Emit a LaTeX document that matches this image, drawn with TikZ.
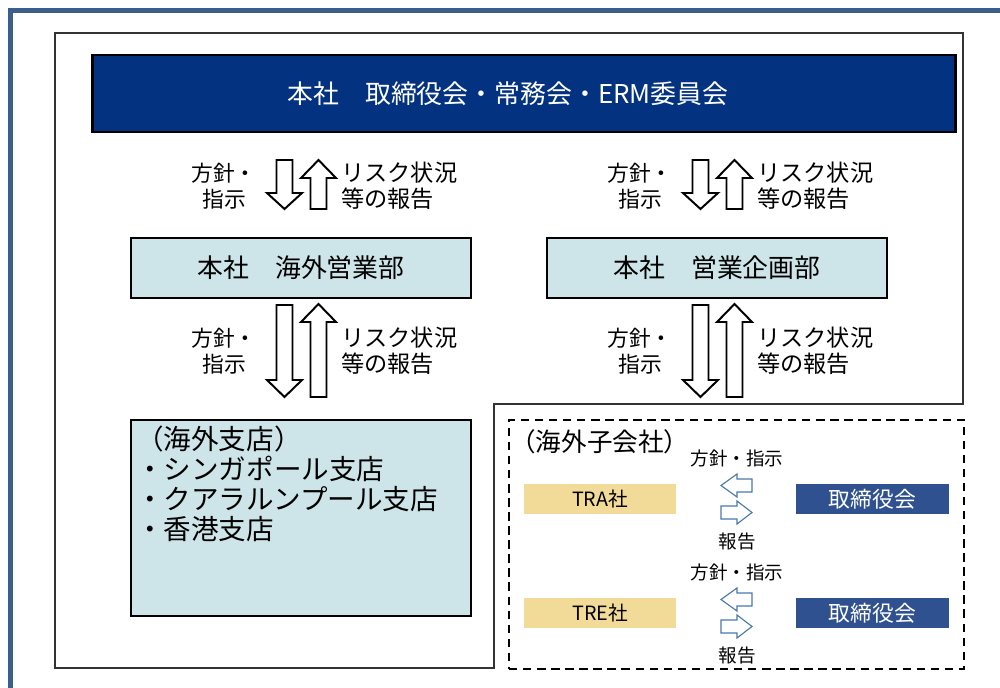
\documentclass[tikz,border=0pt]{standalone}
\usepackage{fontspec}
\setmainfont{Noto Sans CJK JP}
\usetikzlibrary{positioning}
\definecolor{hqblue}{HTML}{033380}
\definecolor{paleblue}{HTML}{CDE5E8}
\definecolor{goldbox}{HTML}{F2DB98}
\definecolor{boardblue}{HTML}{2F5190}
\definecolor{frameblue}{HTML}{3A5F8A}
\definecolor{smallblue}{HTML}{4A78AC}
\tikzset{
    x=0.025cm, y=-0.025cm, % one unit = one pixel of the page
    }
% block arrows: x, top, head base, tip
\newcommand{\downblk}[4]{\draw[blockarrow] (#1-8,#2) -- (#1+8,#2) -- (#1+8,#3) -- (#1+17.5,#3) -- (#1,#4) -- (#1-17.5,#3) -- (#1-8,#3) -- cycle;}
\newcommand{\upblk}[4]{\draw[blockarrow] (#1,#2) -- (#1+17.5,#3) -- (#1+8,#3) -- (#1+8,#4) -- (#1-8,#4) -- (#1-8,#3) -- (#1-17.5,#3) -- cycle;}
% small arrows: y centre
\newcommand{\leftsmall}[1]{\draw[thinarrow] (721,#1) -- (737,#1-11.5) -- (737,#1-6.5) -- (752,#1-6.5) -- (752,#1+6.5) -- (737,#1+6.5) -- (737,#1+11.5) -- cycle;}
\newcommand{\rightsmall}[1]{\draw[thinarrow] (752,#1) -- (737,#1-11.5) -- (737,#1-6.5) -- (721,#1-6.5) -- (721,#1+6.5) -- (737,#1+6.5) -- (737,#1+11.5) -- cycle;}

\begin{document}
\begin{tikzpicture}[
hqbox/.style={rectangle, draw=black, line width=2pt, fill=hqblue, minimum width=21.55cm, minimum height=1.925cm},
deptbox/.style={rectangle, draw=black, line width=1.4pt, fill=paleblue, minimum width=8.5cm, minimum height=1.5cm, font=\fontsize{18.4}{22}\selectfont},
leftlbl/.style={inner sep=0pt, align=center, font=\fontsize{15.5}{18.4}\selectfont},
rightlbl/.style={inner sep=0pt, anchor=west, align=left, font=\fontsize{16.5}{18.4}\selectfont},
blockarrow/.style={draw=black, line width=1.4pt, fill=white},
thinarrow/.style={draw=smallblue, line width=0.8pt, fill=white},
subbox/.style={rectangle, inner sep=0pt, minimum width=3.8cm, minimum height=0.75cm, font=\fontsize{14}{16}\selectfont},
smalllbl/.style={inner sep=0pt, font=\fontsize{13.2}{15}\selectfont},
]
\useasboundingbox (0,0) rectangle (1000,688);

% outer frames
\draw[frameblue, line width=3.2pt] (10.5,688) -- (10.5,10.5) -- (1000,10.5);
\draw[black!80, line width=0.8pt] (55,33) -- (963,33) -- (963,404) -- (494,404) -- (494,668) -- (55,668) -- cycle;

% head office
\node[hqbox] (hq) at (524,93.5) {};
\node[text=white, font=\fontsize{18.4}{22}\selectfont] (hqtext) at (508,93.5) {本社　取締役会・常務会・ERM委員会};
\node[deptbox] (overseas) at (301,268) {本社　海外営業部};
\node[deptbox] (planning) at (717,268) {本社　営業企画部};

% branches
\node[deptbox, minimum height=4.9cm] (branches) at (301,518) {};
\node[inner sep=0pt, anchor=north west, align=left, font=\fontsize{19.6}{21.3}\selectfont] (branchtext) at (136,426)
  {（海外支店）\\・シンガポール支店\\・クアラルンプール支店\\・香港支店};

% subsidiaries
\node[rectangle, draw=black, line width=1.6pt, dash pattern=on 6pt off 4pt, minimum width=11.375cm, minimum height=6.225cm] (subs) at (736.5,544.5) {};
\node[inner sep=0pt, anchor=west, font=\fontsize{18.2}{20}\selectfont] (substitle) at (510,442) {（海外子会社）};
\node[subbox, fill=goldbox] (tra) at (600,499) {TRA社};
\node[subbox, fill=boardblue, text=white, font=\fontsize{15.5}{18}\selectfont] (traboard) at (872.5,499) {取締役会};
\node[subbox, fill=goldbox] (tre) at (600,613) {TRE社};
\node[subbox, fill=boardblue, text=white, font=\fontsize{15.5}{18}\selectfont] (treboard) at (872.5,613) {取締役会};

% labels
\foreach \dx/\n in {0/a,416/b}{
  \node[leftlbl] (inst1\n) at (224+\dx,186) {方針・\\指示};
  \node[rightlbl] (rep1\n) at (341+\dx,186) {リスク状況\\等の報告};
  \node[leftlbl] (inst2\n) at (224+\dx,351) {方針・\\指示};
  \node[rightlbl] (rep2\n) at (341+\dx,351) {リスク状況\\等の報告};
  \downblk{284.5+\dx}{160}{193}{209}
  \upblk{318.5+\dx}{160}{178}{209}
  \downblk{284.5+\dx}{305}{380}{397}
  \upblk{318.5+\dx}{304}{322}{397}
}

\node[smalllbl] (instA) at (737,458) {方針・指示};
\node[smalllbl] (repA) at (737,542) {報告};
\node[smalllbl] (instE) at (737,572) {方針・指示};
\node[smalllbl] (repE) at (737,656) {報告};
\leftsmall{485.5}
\rightsmall{512.5}
\leftsmall{599.5}
\rightsmall{626.5}
\end{tikzpicture}
\end{document}
